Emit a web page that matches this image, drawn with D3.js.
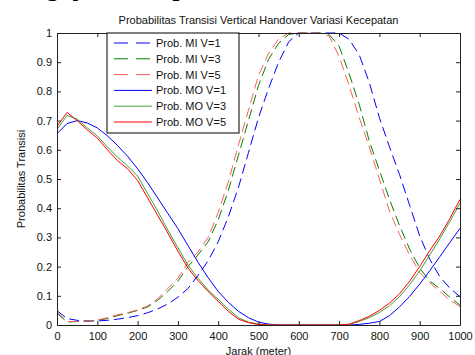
<!DOCTYPE html>
<html>
<head>
<meta charset="utf-8">
<script src="https://cdn.jsdelivr.net/npm/d3@7"></script>
<style>
body { margin: 0; background: #fff; }
svg { display: block; }
text { font-family: Arial, "Liberation Sans", sans-serif; }
</style>
</head>
<body>
<div id="chart"></div>
<script>
// jarak (meter), same grid for every series
var jarak = d3.range(0, 1001, 25);

var miV1 = [0.049, 0.022, 0.016, 0.014, 0.014, 0.016, 0.020, 0.025, 0.032, 0.042,
            0.055, 0.072, 0.095, 0.125, 0.170, 0.220, 0.285, 0.370, 0.470, 0.590,
            0.710, 0.810, 0.900, 0.970, 1.000, 1.000, 1.000, 1.000, 1.000, 0.978,
            0.925, 0.830, 0.710, 0.610, 0.515, 0.410, 0.305, 0.225, 0.165, 0.126, 0.097];
var miV3 = [0.040, 0.010, 0.012, 0.013, 0.016, 0.022, 0.032, 0.040, 0.050, 0.062,
            0.085, 0.115, 0.150, 0.200, 0.240, 0.285, 0.360, 0.460, 0.580, 0.700,
            0.820, 0.910, 0.965, 0.995, 1.000, 1.000, 1.000, 0.995, 0.955, 0.860,
            0.755, 0.630, 0.530, 0.430, 0.340, 0.260, 0.195, 0.150, 0.125, 0.095, 0.068];
var miV5 = [0.045, 0.012, 0.012, 0.013, 0.017, 0.025, 0.035, 0.042, 0.052, 0.065,
            0.090, 0.125, 0.160, 0.215, 0.250, 0.300, 0.385, 0.490, 0.615, 0.735,
            0.855, 0.930, 0.980, 1.000, 1.000, 1.000, 1.000, 0.990, 0.920, 0.820,
            0.710, 0.610, 0.500, 0.390, 0.310, 0.240, 0.180, 0.145, 0.115, 0.085, 0.063];
var moV1 = [0.655, 0.690, 0.700, 0.692, 0.675, 0.648, 0.615, 0.578, 0.535, 0.487,
            0.435, 0.382, 0.330, 0.272, 0.215, 0.162, 0.115, 0.078, 0.047, 0.025,
            0.010, 0.003, 0.000, 0.000, 0.000, 0.000, 0.000, 0.000, 0.000, 0.000,
            0.002, 0.006, 0.012, 0.032, 0.062, 0.098, 0.140, 0.186, 0.234, 0.283, 0.331];
var moV3 = [0.670, 0.718, 0.705, 0.675, 0.648, 0.610, 0.575, 0.545, 0.510, 0.450,
            0.390, 0.325, 0.265, 0.205, 0.160, 0.120, 0.088, 0.055, 0.025, 0.010,
            0.003, 0.000, 0.000, 0.000, 0.000, 0.000, 0.000, 0.000, 0.000, 0.002,
            0.012, 0.025, 0.043, 0.066, 0.097, 0.138, 0.185, 0.240, 0.295, 0.355, 0.417];
var moV5 = [0.680, 0.728, 0.700, 0.668, 0.640, 0.600, 0.563, 0.535, 0.495, 0.435,
            0.375, 0.315, 0.253, 0.195, 0.152, 0.115, 0.081, 0.047, 0.020, 0.008,
            0.002, 0.000, 0.000, 0.000, 0.000, 0.000, 0.000, 0.000, 0.000, 0.003,
            0.015, 0.030, 0.050, 0.075, 0.107, 0.150, 0.200, 0.255, 0.305, 0.365, 0.430];

var seriesNames = ["Prob. MI V=1", "Prob. MI V=3", "Prob. MI V=5",
                   "Prob. MO V=1", "Prob. MO V=3", "Prob. MO V=5"];
var seriesValues = [miV1, miV3, miV5, moV1, moV3, moV5];
var seriesColors = ["#0000ff", "#008000", "#ff5a5a", "#0000ff", "#3ca03c", "#ff0000"];
var seriesDashed = [true, true, true, false, false, false];

var xTicks = d3.range(0, 1001, 100);
var yTicks = [0, 0.1, 0.2, 0.3, 0.4, 0.5, 0.6, 0.7, 0.8, 0.9, 1];

var width = 475, height = 355;
var padLeft = 57, padRight = 460, padTop = 33, padBottom = 325;

var svg = d3.select("#chart").append("svg")
    .attr("width", width).attr("height", height);

var x = d3.scaleLinear().domain([0, 1000]).range([padLeft, padRight]);
var y = d3.scaleLinear().domain([0, 1]).range([padBottom, padTop]);

// cropped line of the document above the figure, only descenders show
svg.append("text")
    .attr("x", 4).attr("y", -4.5)
    .style("font-family", "'Liberation Serif', 'DejaVu Serif', serif")
    .style("font-weight", "bold")
    .style("font-size", "26px")
    .text("Pengujian kecepatan");

var line = d3.line()
    .x(function(d, i) { return x(jarak[i]); })
    .y(function(d) { return y(d); });

svg.append("defs").append("clipPath").attr("id", "clip")
    .append("rect").attr("x", padLeft).attr("y", padTop - 1)
    .attr("width", padRight - padLeft).attr("height", padBottom - padTop + 2);

svg.append("g").attr("clip-path", "url(#clip)")
    .selectAll("path")
    .data(seriesValues)
    .enter()
    .append("path")
    .attr("d", line)
    .attr("fill", "none")
    .attr("stroke", function(d, i) { return seriesColors[i]; })
    .attr("stroke-width", 1)
    .attr("stroke-dasharray", function(d, i) { return seriesDashed[i] ? "10,5" : null; });

// axes, MATLAB style ticks pointing inwards
function styleAxis(g) {
    g.selectAll("path").attr("stroke", "#222");
    g.selectAll("line").attr("stroke", "#222");
    g.selectAll("text").attr("fill", "#111").style("font-size", "11px")
        .style("font-family", "Arial, 'Liberation Sans', sans-serif");
}

svg.append("g").attr("transform", "translate(0," + padBottom + ")")
    .call(d3.axisBottom(x).tickValues(xTicks).tickSizeInner(-4).tickSizeOuter(0).tickPadding(7)
        .tickFormat(d3.format("d")))
    .call(styleAxis);
svg.append("g").attr("transform", "translate(0," + padTop + ")")
    .call(d3.axisTop(x).tickValues(xTicks).tickSizeInner(-4).tickSizeOuter(0).tickFormat(""))
    .call(styleAxis);
svg.append("g").attr("transform", "translate(" + padLeft + ",0)")
    .call(d3.axisLeft(y).tickValues(yTicks).tickSizeInner(-4).tickSizeOuter(0).tickPadding(5)
        .tickFormat(d3.format("")))
    .call(styleAxis);
svg.append("g").attr("transform", "translate(" + padRight + ",0)")
    .call(d3.axisRight(y).tickValues(yTicks).tickSizeInner(-4).tickSizeOuter(0).tickFormat(""))
    .call(styleAxis);

svg.append("text")
    .attr("x", (padLeft + padRight) / 2).attr("y", 24)
    .attr("text-anchor", "middle")
    .style("font-size", "11px").attr("fill", "#111")
    .text("Probabilitas Transisi Vertical Handover Variasi Kecepatan");

svg.append("text")
    .attr("x", (padLeft + padRight) / 2).attr("y", 355)
    .attr("text-anchor", "middle")
    .style("font-size", "11px").attr("fill", "#111")
    .text("Jarak (meter)");

svg.append("text")
    .attr("transform", "translate(25," + (padTop + padBottom) / 2 + ") rotate(-90)")
    .attr("text-anchor", "middle")
    .style("font-size", "11px").attr("fill", "#111")
    .text("Probabilitas Transisi");

// legend
var legend = svg.append("g");
legend.append("rect")
    .attr("x", 107).attr("y", 33)
    .attr("width", 132).attr("height", 100)
    .attr("fill", "#fff").attr("stroke", "#000");

var rows = legend.selectAll("g.row")
    .data(seriesNames)
    .enter().append("g")
    .attr("class", "row")
    .attr("transform", function(d, i) { return "translate(0," + (43 + i * 15.8) + ")"; });

rows.append("line")
    .attr("x1", 114).attr("x2", 152)
    .attr("stroke", function(d, i) { return seriesColors[i]; })
    .attr("stroke-dasharray", function(d, i) { return seriesDashed[i] ? "14,8" : null; });

rows.append("text")
    .attr("x", 156).attr("y", 4)
    .style("font-size", "11px").attr("fill", "#111")
    .text(function(d) { return d; });
</script>
</body>
</html>
